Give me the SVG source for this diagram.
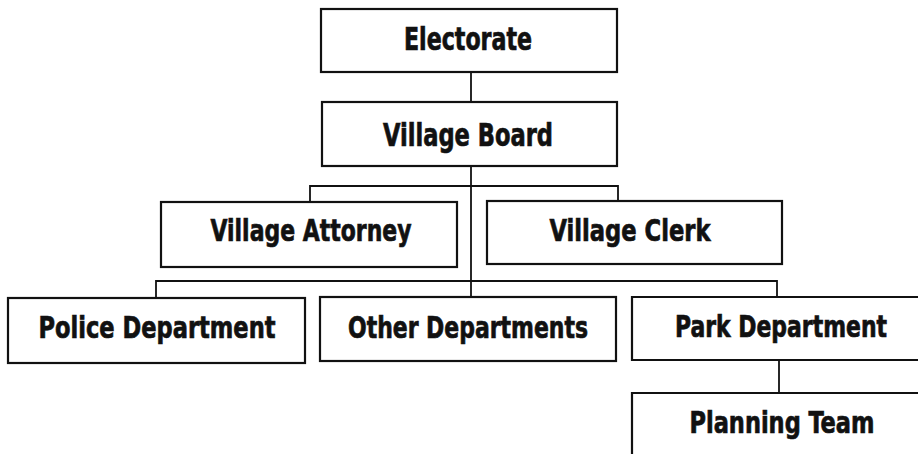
<svg xmlns="http://www.w3.org/2000/svg" width="918" height="454" viewBox="0 0 918 454">
<style>
.box{fill:#fff;stroke:#111;stroke-width:2.2}
.lbl{font-family:"Liberation Sans Narrow","DejaVu Sans Condensed","Liberation Sans",sans-serif;font-weight:bold;fill:#111;stroke:#111;stroke-width:0.7;text-anchor:middle}
.big{font-size:32px}
.mid{font-size:31px}
.con{fill:none;stroke:#111;stroke-width:1.8}
</style>
<rect width="918" height="454" fill="#fff"/>
<g id="connectors">
<path class="con" d="M471 72V102"/>
<path class="con" d="M471 166V297"/>
<path class="con" d="M310 202V186H618V201"/>
<path class="con" d="M156 298V281H777V297"/>
<path class="con" d="M779 360V393"/>
</g>
<g id="electorate">
<rect class="box" x="321" y="9" width="296" height="63"/>
<text class="lbl big" x="468" y="50" textLength="128" lengthAdjust="spacingAndGlyphs">Electorate</text>
</g>
<g id="village-board">
<rect class="box" x="322" y="102" width="295" height="64"/>
<text class="lbl big" x="468" y="146" textLength="170" lengthAdjust="spacingAndGlyphs">Village Board</text>
</g>
<g id="village-attorney">
<rect class="box" x="161" y="202" width="296" height="65"/>
<text class="lbl mid" x="311" y="241" textLength="201" lengthAdjust="spacingAndGlyphs">Village Attorney</text>
</g>
<g id="village-clerk">
<rect class="box" x="487" y="201" width="295" height="63"/>
<text class="lbl mid" x="630" y="241" textLength="161" lengthAdjust="spacingAndGlyphs">Village Clerk</text>
</g>
<g id="police-department">
<rect class="box" x="8" y="298" width="297" height="65"/>
<text class="lbl mid" x="157" y="338" textLength="237" lengthAdjust="spacingAndGlyphs">Police Department</text>
</g>
<g id="other-departments">
<rect class="box" x="320" y="297" width="296" height="64"/>
<text class="lbl mid" x="468" y="338" textLength="240" lengthAdjust="spacingAndGlyphs">Other Departments</text>
</g>
<g id="park-department">
<path class="box" d="M918 297H632V360H918"/>
<text class="lbl mid" x="781" y="337" textLength="212" lengthAdjust="spacingAndGlyphs">Park Department</text>
</g>
<g id="planning-team">
<path class="box" d="M918 393H632V454"/>
<text class="lbl mid" x="782" y="433" textLength="185" lengthAdjust="spacingAndGlyphs">Planning Team</text>
</g>
</svg>
